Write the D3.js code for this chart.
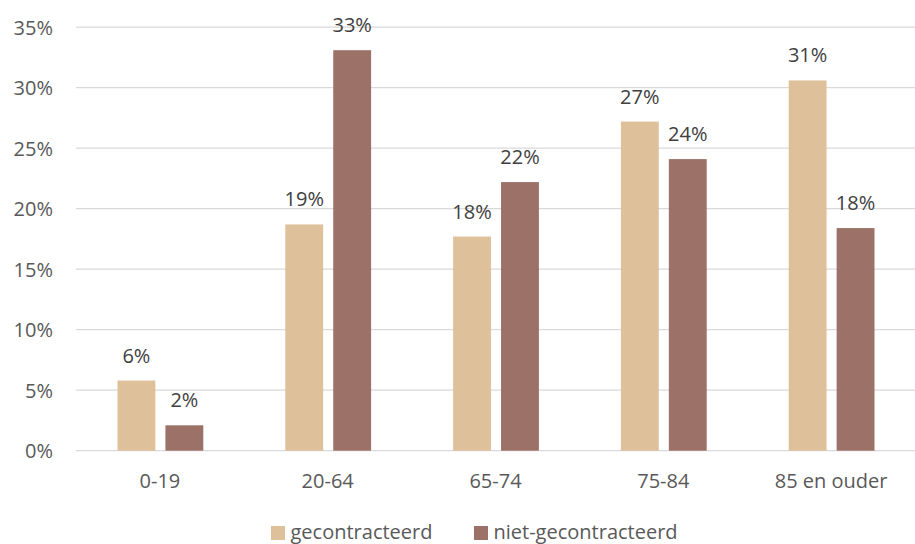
<!DOCTYPE html>
<html>
<head>
<meta charset="utf-8">
<script src="https://cdn.jsdelivr.net/npm/d3@7"></script>
<style>
  html, body { margin: 0; padding: 0; background: #fff; }
  svg { display: block; font-family: "Open Sans", sans-serif; }
</style>
</head>
<body>
<svg id="chart" width="915" height="544"></svg>
<script>
const categories = ["0-19", "20-64", "65-74", "75-84", "85 en ouder"];
const seriesNames = ["gecontracteerd", "niet-gecontracteerd"];
const gecontracteerd = [5.8, 18.7, 17.7, 27.2, 30.6];
const nietGecontracteerd = [2.1, 33.1, 22.2, 24.1, 18.4];
const yTicks = [0, 5, 10, 15, 20, 25, 30, 35];
const colors = ["#DEC19B", "#9C7167"];

const svg = d3.select("#chart");
const margin = { left: 76, right: 0 };
const W = 915;
const y0 = 450.7, yTop = 27.2;

const x = d3.scaleBand().domain(categories).range([margin.left, W]).paddingInner(0).paddingOuter(0);
const y = d3.scaleLinear().domain([0, 35]).range([y0, yTop]);
const inner = d3.scaleBand().domain(seriesNames).range([41.5, x.bandwidth() - 40.5]).paddingInner(0.21);

// gridlines
svg.append("g").selectAll("line").data(yTicks).join("line")
  .attr("x1", margin.left).attr("x2", W)
  .attr("y1", d => y(d)).attr("y2", d => y(d))
  .attr("stroke", "#d9d9d9").attr("stroke-width", 1.3);

// y axis labels
const yAxis = d3.axisLeft(y).tickValues(yTicks).tickFormat(d => d + "%").tickSize(0).tickPadding(0);
const yg = svg.append("g").attr("transform", "translate(53,0)").call(yAxis);
yg.select(".domain").remove();
yg.selectAll("text").attr("fill", "#595959").style("font-size", "20px").style("font-family", "Open Sans").attr("dy", "0.35em");

// x axis labels
const xAxis = d3.axisBottom(x).tickSize(0).tickPadding(0);
const xg = svg.append("g").attr("transform", "translate(0,488)").call(xAxis);
xg.select(".domain").remove();
xg.selectAll("text").attr("fill", "#595959").style("font-size", "20px").style("font-family", "Open Sans").attr("dy", 0);

const data = categories.map((c, i) => ({ cat: c, vals: [gecontracteerd[i], nietGecontracteerd[i]] }));

const groups = svg.append("g").selectAll("g").data(data).join("g")
  .attr("transform", d => `translate(${x(d.cat)},0)`);

groups.selectAll("rect").data(d => d.vals.map((v, j) => ({ v, s: seriesNames[j], j }))).join("rect")
  .attr("x", d => inner(d.s))
  .attr("width", inner.bandwidth())
  .attr("y", d => y(d.v))
  .attr("height", d => y0 - y(d.v))
  .attr("fill", d => colors[d.j]);

groups.selectAll("text").data(d => d.vals.map((v, j) => ({ v, s: seriesNames[j], j }))).join("text")
  .attr("x", d => inner(d.s) + inner.bandwidth() / 2)
  .attr("y", d => y(d.v) - 18)
  .attr("text-anchor", "middle")
  .attr("fill", "#404040")
  .style("font-size", "20px")
  .text(d => Math.round(d.v) + "%");

// legend
const legendX = [271, 474];
const lg = svg.append("g").selectAll("g").data(seriesNames).join("g")
  .attr("transform", (d, i) => `translate(${legendX[i]},526)`);
lg.append("rect").attr("width", 14).attr("height", 14).attr("fill", (d, i) => colors[i]);
lg.append("text").attr("x", 19.5).attr("y", 13).attr("fill", "#595959")
  .style("font-size", "20px").text(d => d);
</script>
</body>
</html>
